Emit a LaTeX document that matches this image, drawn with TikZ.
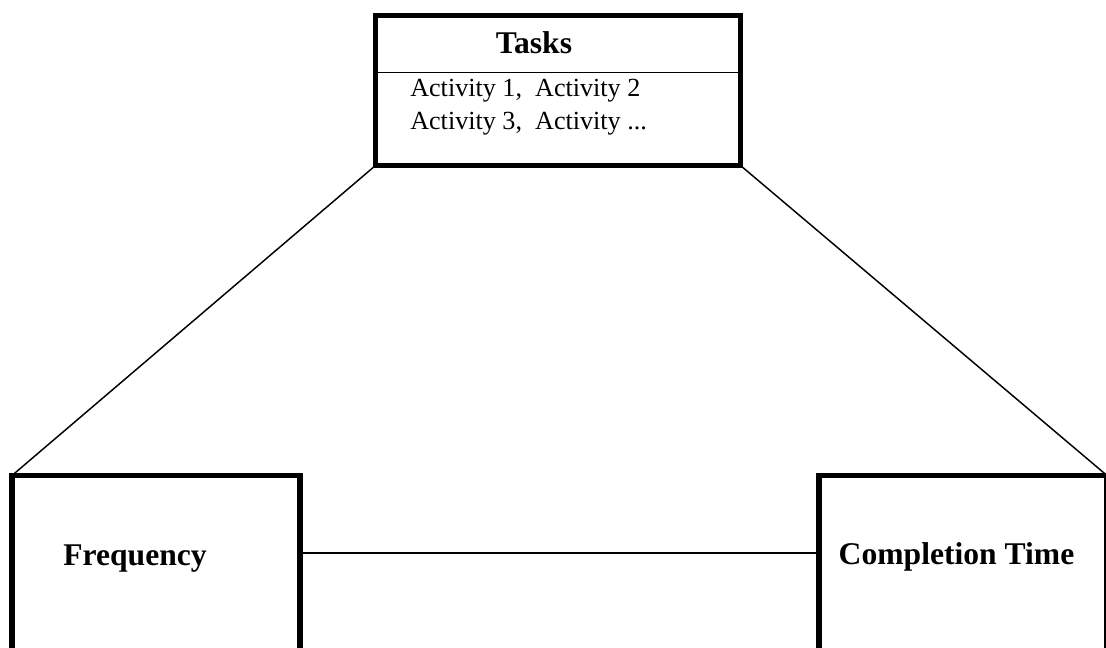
\documentclass[tikz,border=0pt]{standalone}
\usepackage{fontspec}
\setmainfont{Liberation Serif}
\tikzset{
  box/.style={draw,line width=3.8pt,rectangle,outer sep=0pt,inner sep=0pt},
  link/.style={line width=1.1pt},
  bigtext/.style={font=\fontsize{23.7}{28}\selectfont\bfseries,inner sep=0pt},
  smalltext/.style={font=\fontsize{19.6}{24}\selectfont,inner sep=0pt}
}
\begin{document}
\begin{tikzpicture}[x=0.75pt,y=-0.75pt]
  \useasboundingbox (0,0) rectangle (1106,648);
  \clip (0,0) rectangle (1106,648);
  % boxes
  \node[box,minimum width=273.75pt,minimum height=112.5pt] (tasks) at (558,90.5) {};
  \node[box,minimum width=216pt,minimum height=180pt,anchor=north west] (freq) at (12,475.5) {};
  \node[box,minimum width=216pt,minimum height=180pt,anchor=north west] (time) at (819,475.5) {};
  % texts
  \node[bigtext,anchor=base] (taskslbl) at (534,54) {Tasks};
  \node[smalltext,anchor=base west] (act1) at (410,97) {Activity 1,\ \ Activity 2};
  \node[smalltext,anchor=base west] (act2) at (410,130) {Activity 3,\ \ Activity ...};
  \node[bigtext,anchor=base] (freqlbl) at (135,565) {Frequency};
  \node[bigtext,anchor=base] (timelbl) at (956.5,564) {Completion Time};
  % connectors
  \coordinate (div) at (0,72.7);
  \coordinate (mid) at (0,553);
  \draw[link] (tasks.west |- div) -- (tasks.east |- div);
  \draw[link] (tasks.south west) -- (freq.north west);
  \draw[link] (tasks.south east) -- (time.north east);
  \draw[link] (freq.east |- mid) -- (time.west |- mid);
\end{tikzpicture}
\end{document}
